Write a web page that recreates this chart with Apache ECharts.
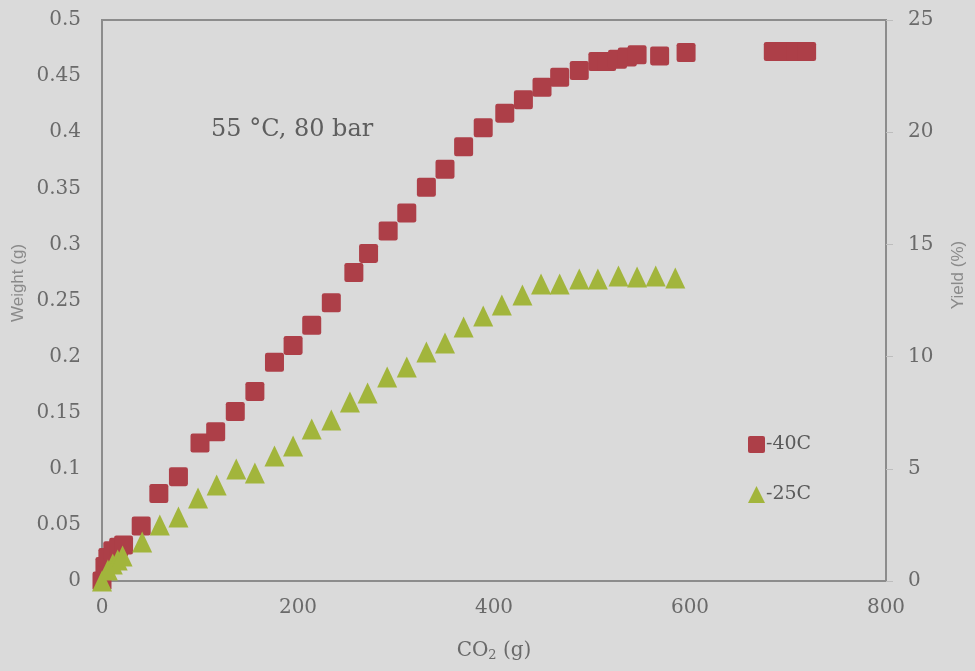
<!DOCTYPE html>
<html>
<head>
<meta charset="utf-8">
<script src="https://cdn.jsdelivr.net/npm/echarts@6/dist/echarts.min.js"></script>
<style>
  html, body { margin: 0; padding: 0; background: #dadada; }
  #chart { width: 975px; height: 671px; }
</style>
</head>
<body>
<div id="chart"></div>
<script>
// CO2 mass passed (g) and extract weight (g) for the -40C trap
const co2Minus40 = [0, 3, 6, 11, 17, 22, 40, 58, 78, 100, 116, 136, 156, 176, 195, 214, 234, 257, 272, 292, 311, 331, 350, 369, 389, 411, 430, 449, 467, 487, 506, 515, 526, 536, 546, 569, 596, 685, 697, 708, 719];
const weightMinus40 = [0, 0.013, 0.021, 0.027, 0.030, 0.032, 0.049, 0.078, 0.093, 0.123, 0.133, 0.151, 0.169, 0.195, 0.210, 0.228, 0.248, 0.275, 0.292, 0.312, 0.328, 0.351, 0.367, 0.387, 0.404, 0.417, 0.429, 0.440, 0.449, 0.455, 0.463, 0.463, 0.465, 0.467, 0.469, 0.468, 0.471, 0.472, 0.472, 0.472, 0.472];

// CO2 mass passed (g) and yield (%) for the -25C trap
const co2Minus25 = [0, 6, 11, 16, 21, 41, 59, 78, 98, 117, 137, 156, 176, 195, 214, 234, 253, 271, 291, 311, 331, 350, 369, 389, 408, 429, 448, 467, 487, 506, 527, 546, 565, 585];
const yieldMinus25 = [0, 0.49, 0.76, 0.94, 1.11, 1.74, 2.50, 2.85, 3.70, 4.28, 4.99, 4.81, 5.57, 6.02, 6.77, 7.17, 7.98, 8.38, 9.09, 9.54, 10.20, 10.61, 11.32, 11.81, 12.30, 12.75, 13.24, 13.24, 13.46, 13.46, 13.59, 13.55, 13.59, 13.50];

const seriesNames = ['-40C', '-25C'];
const annotation = '55 °C, 80 bar';

const serif = 'DejaVu Serif';
const sans = 'Liberation Sans';
const textGray = '#6a6a6a';
const frameGray = '#8c8c8c';

const pairs = (xs, ys) => xs.map((x, i) => [x, ys[i]]);
const roundSquare = 'path://M1.2,0 H8.8 Q10,0 10,1.2 V8.8 Q10,10 8.8,10 H1.2 Q0,10 0,8.8 V1.2 Q0,0 1.2,0 Z';

const chart = echarts.init(document.getElementById('chart'), null, { renderer: 'canvas' });

chart.setOption({
  backgroundColor: '#dadada',
  animation: false,
  grid: {
    left: 102, right: 89, top: 20, bottom: 90,
    show: true, borderColor: frameGray, borderWidth: 2, backgroundColor: 'transparent'
  },
  xAxis: {
    type: 'value', min: 0, max: 800, interval: 200,
    axisLine: { show: false }, axisTick: { show: false }, splitLine: { show: false },
    axisLabel: { color: textGray, fontFamily: serif, fontSize: 20, margin: 17 },
    name: '{n|CO}{s|2}{n| (g)}',
    nameLocation: 'middle', nameGap: 58,
    nameTextStyle: {
      rich: {
        n: { fontFamily: serif, fontSize: 20, color: textGray },
        s: { fontFamily: serif, fontSize: 13, color: textGray, padding: [10, 0, 0, 0] }
      }
    }
  },
  yAxis: [
    {
      type: 'value', min: 0, max: 0.5, interval: 0.05,
      axisLine: { show: false }, axisTick: { show: false }, splitLine: { show: false },
      axisLabel: { color: textGray, fontFamily: serif, fontSize: 20, margin: 21 }
    },
    {
      type: 'value', position: 'right', min: 0, max: 25, interval: 5,
      axisLine: { show: false }, splitLine: { show: false },
      axisTick: { show: true, length: 7, lineStyle: { color: '#bdbdbd', width: 1 } },
      axisLabel: { color: textGray, fontFamily: serif, fontSize: 20, margin: 22 }
    }
  ],
  legend: {
    orient: 'vertical', left: 743, top: 430, itemGap: 31,
    itemWidth: 17, itemHeight: 17, itemStyle: { borderWidth: 0 },
    textStyle: { fontFamily: serif, fontSize: 19, color: '#5a5a5a', padding: [0, 0, 0, -4] },
    data: seriesNames
  },
  graphic: [
    {
      type: 'text', left: 211, top: 118,
      style: { text: annotation, font: '24px "DejaVu Serif"', fill: '#5e5e5e' }
    },
    {
      type: 'text', x: 18, y: 283, rotation: Math.PI / 2,
      style: { text: 'Weight (g)', font: '17px "Liberation Sans"', fill: '#8a8a8a', align: 'center', verticalAlign: 'middle' }
    },
    {
      type: 'text', x: 958, y: 275, rotation: Math.PI / 2,
      style: { text: 'Yield (%)', font: '17px "Liberation Sans"', fill: '#8a8a8a', align: 'center', verticalAlign: 'middle' }
    }
  ],
  series: [
    {
      name: seriesNames[0], type: 'scatter', yAxisIndex: 0,
      symbol: roundSquare, symbolSize: 19,
      itemStyle: { color: '#ad3f48', opacity: 1 },
      data: pairs(co2Minus40, weightMinus40), z: 2
    },
    {
      name: seriesNames[1], type: 'scatter', yAxisIndex: 1,
      symbol: 'triangle', symbolSize: [20, 21],
      itemStyle: { color: '#a2b53c', opacity: 1 },
      data: pairs(co2Minus25, yieldMinus25), z: 3
    }
  ]
});
</script>
</body>
</html>
